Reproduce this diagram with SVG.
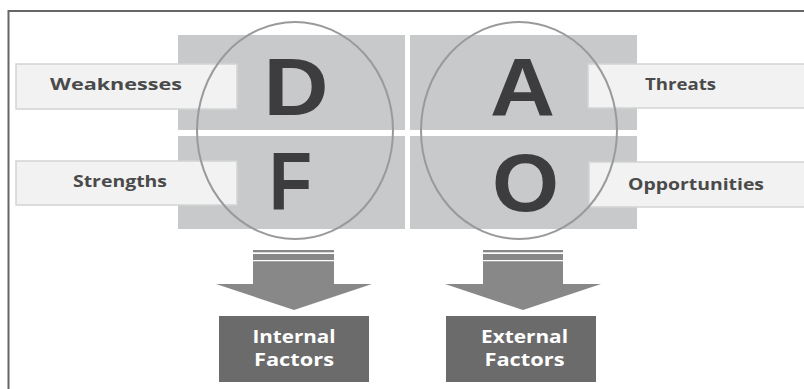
<svg xmlns="http://www.w3.org/2000/svg" width="804" height="389" viewBox="0 0 804 389">
<style>
.q{fill:#c8c9cb}
.lb{fill:#f2f2f2;stroke:#d2d3d4;stroke-width:1.5}
.lt{font-family:"Open Sans","Liberation Sans",sans-serif;font-weight:bold;font-size:16px;fill:#4a4a4a;text-anchor:middle}
.big{font-family:"Liberation Sans","Open Sans",sans-serif;font-weight:bold;font-size:81px;fill:#3d3d3f;text-anchor:middle}
.el{fill:none;stroke:#999a9c;stroke-width:2}
.ar{fill:#888888}
.fb{fill:#6b6b6b}
.ft{font-family:"Open Sans","Liberation Sans",sans-serif;font-weight:bold;font-size:18px;fill:#ffffff;text-anchor:middle}
</style>
<rect width="804" height="389" fill="#ffffff"/>
<path d="M8.5,389 V11 H804" fill="none" stroke="#666666" stroke-width="2"/>
<g id="quadrants">
<rect class="q" x="178" y="35" width="227" height="95"/>
<rect class="q" x="178" y="136" width="227" height="93"/>
<rect class="q" x="410" y="35" width="227" height="95"/>
<rect class="q" x="410" y="136" width="227" height="93"/>
</g>
<g id="weaknesses">
<rect class="lb" x="16" y="64" width="221" height="45"/>
<text class="lt" x="116" y="90" textLength="132" lengthAdjust="spacingAndGlyphs">Weaknesses</text>
</g>
<g id="strengths">
<rect class="lb" x="16" y="161" width="221" height="44"/>
<text class="lt" x="120" y="187" textLength="94" lengthAdjust="spacingAndGlyphs">Strengths</text>
</g>
<g id="threats">
<rect class="lb" x="588" y="64" width="220" height="44"/>
<text class="lt" x="680.5" y="90" textLength="71" lengthAdjust="spacingAndGlyphs">Threats</text>
</g>
<g id="opportunities">
<rect class="lb" x="589" y="162" width="220" height="45"/>
<text class="lt" x="696" y="190" textLength="136" lengthAdjust="spacingAndGlyphs">Opportunities</text>
</g>
<g id="letters">
<text class="big" x="296" y="115" textLength="65" lengthAdjust="spacingAndGlyphs">D</text>
<text class="big" x="290.5" y="210" textLength="43" lengthAdjust="spacingAndGlyphs">F</text>
<text class="big" x="522.5" y="115" textLength="65" lengthAdjust="spacingAndGlyphs">A</text>
<text class="big" x="525.5" y="211" textLength="67" lengthAdjust="spacingAndGlyphs">O</text>
</g>
<g id="circles">
<ellipse class="el" cx="295" cy="130.5" rx="98" ry="108.5"/>
<ellipse class="el" cx="519" cy="130.5" rx="98" ry="108.5"/>
</g>
<g id="connectors">
<g id="arrow-internal">
<rect class="ar" x="253" y="250" width="81" height="2.3"/>
<rect class="ar" x="253" y="254" width="81" height="6"/>
<path class="ar" d="M253,261.3 H334 V284 H372 L294,310 L216,284 H253 Z"/>
</g>
<g id="arrow-external">
<rect class="ar" x="483" y="250" width="80" height="2.3"/>
<rect class="ar" x="483" y="254" width="80" height="6"/>
<path class="ar" d="M483,261.3 H563 V284 H601 L523,310 L445,284 H483 Z"/>
</g>
</g>
<g id="internal-factors">
<rect class="fb" x="219" y="316" width="150" height="66"/>
<text class="ft" x="294" y="343" textLength="83" lengthAdjust="spacingAndGlyphs">Internal</text>
<text class="ft" x="294" y="366" textLength="80" lengthAdjust="spacingAndGlyphs">Factors</text>
</g>
<g id="external-factors">
<rect class="fb" x="446" y="316" width="150" height="66"/>
<text class="ft" x="524.5" y="343" textLength="87" lengthAdjust="spacingAndGlyphs">External</text>
<text class="ft" x="524.5" y="366" textLength="80" lengthAdjust="spacingAndGlyphs">Factors</text>
</g>
</svg>
